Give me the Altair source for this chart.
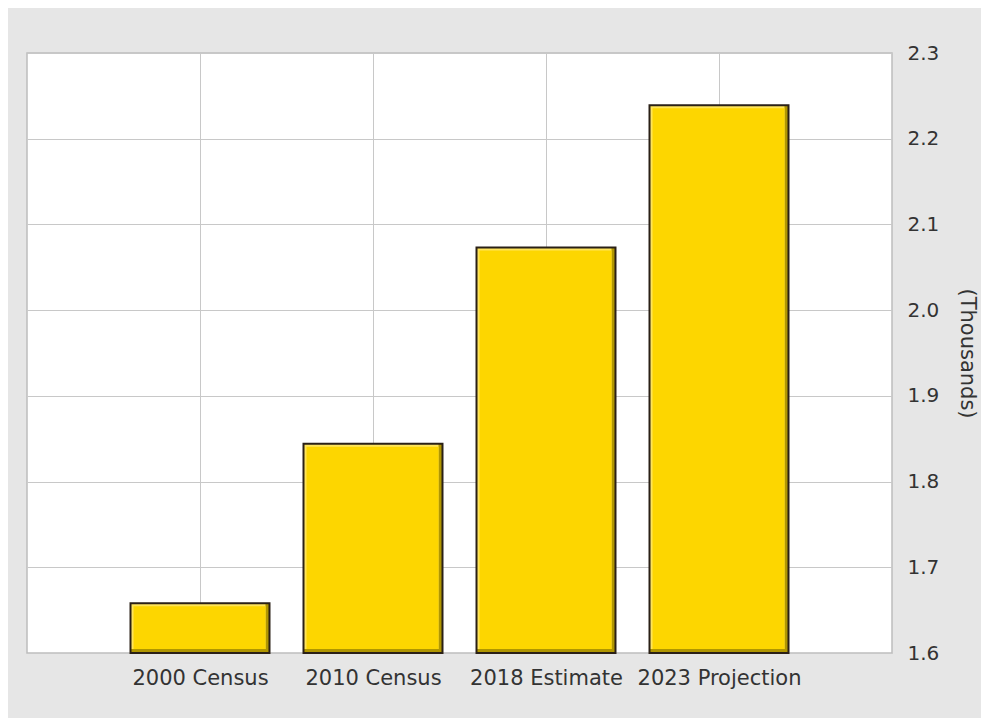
import altair as alt
import pandas as pd

categories = ["2000 Census", "2010 Census", "2018 Estimate", "2023 Projection"]
values = [1.658, 1.844, 2.073, 2.239]
y_ticks = [1.6, 1.7, 1.8, 1.9, 2.0, 2.1, 2.2, 2.3]

df = pd.DataFrame({"category": categories, "value": values})

HALF = 0.4017  # half bar width in x-scale units
FONT = "DejaVu Sans"

label_list = "[" + ",".join("'" + c + "'" for c in [""] + categories + [""]) + "]"

xscale = alt.Scale(domain=[0, 5], nice=False, zero=False)
yscale = alt.Scale(domain=[1.6, 2.3], nice=False, zero=False)

base = (
    alt.Chart(df)
    .transform_window(idx="row_number()")
    .transform_calculate(
        xa=f"datum.idx - {HALF}",
        xb=f"datum.idx + {HALF}",
        base="1.6",
    )
)

x_enc = alt.X(
    "xa:Q",
    scale=xscale,
    axis=alt.Axis(
        values=[1, 2, 3, 4],
        labelExpr=label_list + "[datum.value]",
        grid=True,
        gridColor="#c8c8c8",
        gridWidth=1,
        domain=False,
        ticks=False,
        labelPadding=14,
        labelFont=FONT,
        labelFontSize=21,
        labelColor="#333333",
        title=None,
    ),
)
y_enc = alt.Y(
    "value:Q",
    scale=yscale,
    axis=alt.Axis(
        orient="right",
        values=y_ticks,
        format=".1f",
        grid=True,
        gridColor="#c8c8c8",
        gridWidth=1,
        domain=False,
        ticks=False,
        labelPadding=15,
        labelFont=FONT,
        labelFontSize=20,
        labelColor="#333333",
        title="(Thousands)",
        titleFont=FONT,
        titleFontSize=21,
        titleFontWeight="normal",
        titleColor="#333333",
        titleAngle=90,
        titleAlign="center",
        titleBaseline="middle",
        titleX=74,
        titleY=300,
    ),
)

enc = dict(x=x_enc, x2="xb:Q", y=y_enc, y2="base:Q")

dark = base.mark_rect(fill="#b09600").encode(**enc)
light = base.mark_rect(fill="#ffe45a", x2Offset=-4, y2Offset=-4).encode(**enc)
face = base.mark_rect(fill="#fdd600", xOffset=3, yOffset=3, x2Offset=-4, y2Offset=-4).encode(**enc)
outline = base.mark_rect(fill="#ffffff", fillOpacity=0, stroke="#2a2016", strokeWidth=2).encode(**enc)

chart = (
    alt.layer(dark, light, face, outline)
    .properties(
        width=865,
        height=600,
        autosize=alt.AutoSizeParams(type="none"),
        padding={"left": 19, "top": 45, "right": 89, "bottom": 65},
        background="#e6e6e6",
    )
    .configure_view(fill="#ffffff", stroke="#bdbdbd", strokeWidth=1.5)
)

chart.save("out.html", embed_options={"renderer": "svg", "actions": False})
